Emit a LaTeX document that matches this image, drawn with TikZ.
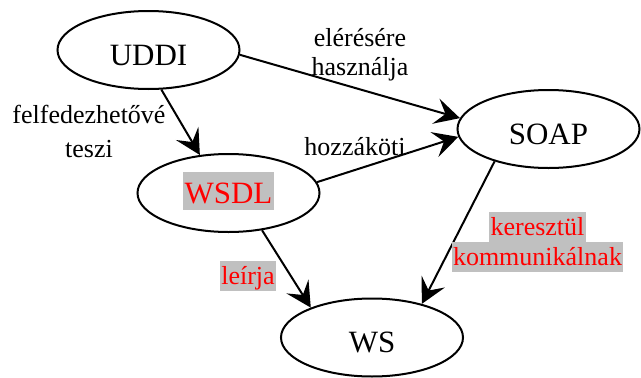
\documentclass[tikz,border=0pt]{standalone}
\usepackage{fontspec}
\setmainfont{Liberation Serif}
\usetikzlibrary{arrows.meta,shapes.geometric}
\definecolor{hlgray}{RGB}{192,192,192}
\definecolor{hlred}{RGB}{255,0,0}
% grey highlight behind text: #1 height above baseline, #2 depth, #3 text
\newcommand{\hlbox}[3]{{\setlength{\fboxsep}{0pt}\colorbox{hlgray}{\hspace{1.5pt}\rule[-#2]{0pt}{\dimexpr#1+#2\relax}#3\hspace{1.5pt}}}}
% centred two-line label, rows #1 apart, baseline on the first row
\newcommand{\twolines}[3]{{\renewcommand{\arraystretch}{0}\begin{tabular}[t]{@{}c@{}}\rule[-7pt]{0pt}{#1}#2\\\rule[-7pt]{0pt}{#1}#3\end{tabular}}}
\newcommand{\twohl}[2]{{\renewcommand{\arraystretch}{0}\begin{tabular}[t]{@{}c@{}}\hlbox{23.3pt}{6.7pt}{#1}\\\hlbox{23.3pt}{6.7pt}{#2}\end{tabular}}}
\tikzset{
  ent/.style={ellipse, draw, line width=2pt, minimum width=182pt, minimum height=78pt,
    inner sep=0pt, font=\fontsize{31}{37}\selectfont, text height=30pt, text depth=0pt},
  lbl/.style={font=\fontsize{26}{31}\selectfont, inner sep=0pt, anchor=base},
  rel/.style={line width=2pt, -{Stealth[length=25pt,width=26pt,inset=10pt]}},
}
\begin{document}
\begin{tikzpicture}[x=1pt,y=-1pt]
\useasboundingbox (0,0) rectangle (641,378);
% entities
\node[ent] (uddi) at (148.5,50) {UDDI};
\node[ent, text=hlred, text height=27pt, text depth=7pt] (wsdl) at (228.5,193) {\hlbox{31pt}{7pt}{WSDL}};
\node[ent] (soap) at (548.5,129) {SOAP};
\node[ent] (ws) at (372,337.5) {WS};
% relations
\draw[rel] (uddi.-72) -- (wsdl.127);
\draw[rel] (uddi.-3) -- (soap.173);
\draw[rel] (wsdl.7) -- (soap.185);
\draw[rel] (wsdl.-48) -- (ws.154);
\draw[rel] (soap.211) -- (ws.34);
% relation labels
\node[lbl] (lfel) at (89,123) {\twolines{34pt}{felfedezhetővé}{teszi}};
\node[lbl] (lel) at (360,46) {\twolines{29pt}{elérésére}{használja}};
\node[lbl] (lhoz) at (355,155) {hozzáköti};
\node[lbl, text=hlred] (lleir) at (248,284) {\hlbox{23.3pt}{6.7pt}{leírja}};
\node[lbl, text=hlred] (lker) at (537.5,235) {\twohl{keresztül}{kommunikálnak}};
\end{tikzpicture}
\end{document}
